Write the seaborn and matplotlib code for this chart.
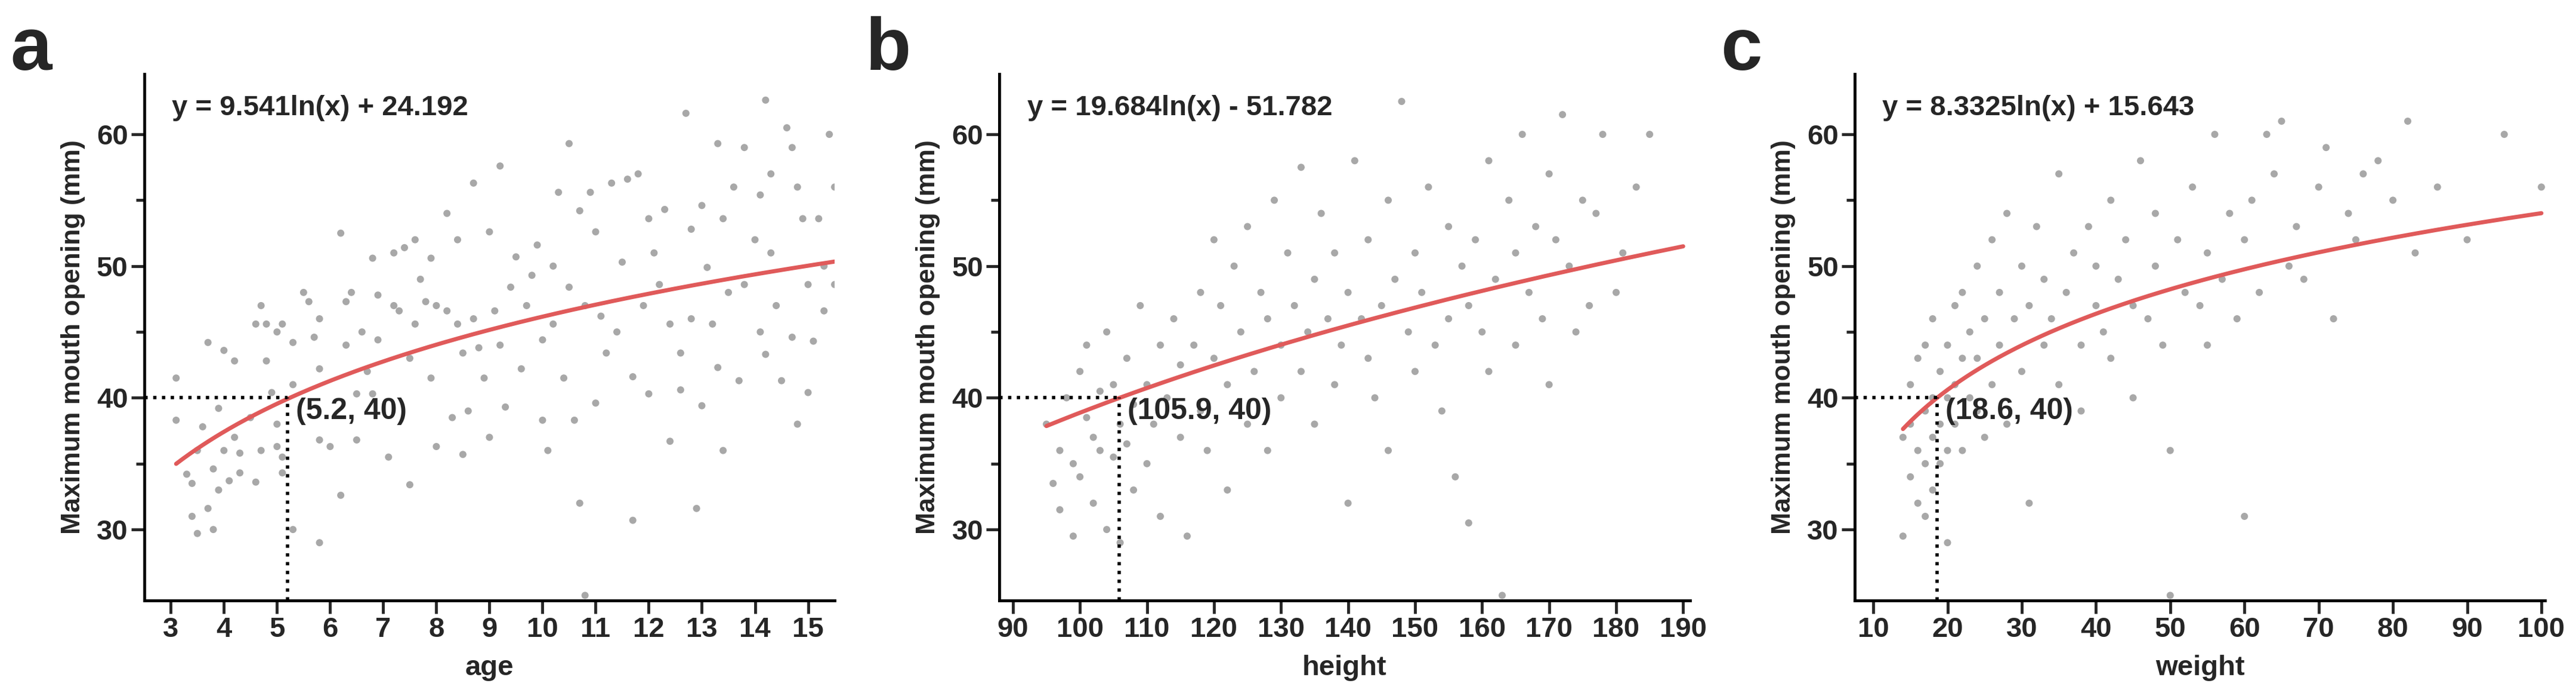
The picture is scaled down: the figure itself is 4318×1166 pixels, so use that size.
import numpy as np
import pandas as pd
import seaborn as sns
import matplotlib.pyplot as plt

# panel a: age vs maximum mouth opening
age = [3.1,3.1,3.3,3.4,3.4,3.5,3.5,3.6,3.7,3.7,3.8,3.8,3.9,3.9,4.0,4.0,4.1,4.2,4.2,4.3,4.3,4.5,4.6,4.6,4.7,4.7,4.8,4.8,4.9,5.0,
       5.0,5.0,5.1,5.1,5.1,5.3,5.3,5.3,5.5,5.6,5.7,5.8,5.8,5.8,5.8,6.0,6.2,6.2,6.3,6.3,6.4,6.5,6.5,6.6,6.7,6.8,6.8,6.9,6.9,7.1,
       7.2,7.2,7.3,7.4,7.5,7.5,7.6,7.6,7.7,7.8,7.9,7.9,8.0,8.0,8.2,8.2,8.3,8.4,8.4,8.5,8.5,8.6,8.7,8.7,8.8,8.9,9.0,9.0,9.1,9.2,
       9.2,9.3,9.4,9.5,9.6,9.7,9.8,9.9,10.0,10.0,10.1,10.2,10.2,10.3,10.4,10.5,10.5,10.6,10.7,10.7,10.8,10.8,10.9,11.0,11.0,11.1,11.2,11.3,11.4,11.5,
       11.6,11.7,11.7,11.8,11.9,12.0,12.0,12.1,12.2,12.3,12.4,12.4,12.6,12.6,12.7,12.8,12.8,12.9,13.0,13.0,13.1,13.2,13.3,13.3,13.4,13.4,13.5,13.6,13.7,13.8,
       13.8,14.0,14.1,14.1,14.2,14.2,14.3,14.3,14.4,14.5,14.6,14.7,14.7,14.8,14.8,14.9,15.0,15.0,15.1,15.2,15.3,15.3,15.4,15.5,15.5]
mmo_a = [41.5,38.3,34.2,33.5,31,29.7,36,37.8,44.2,31.6,34.6,30,39.2,33,43.6,36,33.7,42.8,37,35.8,34.3,38.5,45.6,33.6,47,36,45.6,42.8,40.4,45,
         38,36.3,45.6,34.3,35.5,44.2,41,30,48,47.3,44.6,46,42.2,36.8,29,36.3,52.5,32.6,47.3,44,48,36.8,40.3,45,42,50.6,40.3,47.8,44.4,35.5,
         47,51,46.6,51.4,43,33.4,52,45.6,49,47.3,50.6,41.5,47,36.3,54,46.6,38.5,52,45.6,43.4,35.7,39,56.3,46,43.8,41.5,52.6,37,46.6,57.6,
         44,39.3,48.4,50.7,42.2,47,49.3,51.6,44.4,38.3,36,45.6,50,55.6,41.5,59.3,48.4,38.3,54.2,32,47,25,55.6,52.6,39.6,46.2,43.4,56.3,45,50.3,
         56.6,41.6,30.7,57,47,53.6,40.3,51,48.6,54.3,45.6,36.7,43.4,40.6,61.6,52.8,46,31.6,54.6,39.4,49.9,45.6,59.3,42.3,53.6,36,48,56,41.3,59,
         48.6,52,55.4,45,62.6,43.3,57,51,47,41.3,60.5,59,44.6,56,38,53.6,40.4,48.6,44.3,53.6,46.6,50,60,56,48.6]

# panel b: height
height = [95,96,97,97,98,99,99,100,100,101,101,102,102,103,103,104,104,105,105,106,106,107,107,108,108,109,110,110,111,112,
          112,113,114,115,115,116,117,118,118,119,120,120,121,122,122,123,124,125,125,126,127,128,128,129,130,130,131,132,133,133,
          134,135,135,136,137,138,138,139,140,140,141,142,143,143,144,145,146,146,147,148,149,150,150,151,152,153,154,155,155,156,
          157,158,158,159,160,161,161,162,163,164,165,165,166,167,168,169,170,170,171,172,173,174,175,176,177,178,180,181,183,185]
mmo_b = [38,33.5,36,31.5,40,35,29.5,42,34,38.5,44,32,37,40.5,36,45,30,41,35.5,38,29,43,36.5,39.5,33,47,41,35,38,44,
         31,40,46,37,42.5,29.5,44,48,39,36,52,43,47,41,33,50,45,38,53,42,48,36,46,55,44,40,51,47,57.5,42,
         45,49,38,54,46,41,51,44,48,32,58,46,43,52,40,47,55,36,49,62.5,45,51,42,48,56,44,39,53,46,34,
         50,47,30.5,52,45,58,42,49,25,55,51,44,60,48,53,46,57,41,52,61.5,50,45,55,47,54,60,48,51,56,60]

# panel c: weight
weight = [14,14,15,15,15,16,16,16,17,17,17,17,18,18,18,18,19,19,19,20,20,20,20,21,21,21,22,22,22,23,
          23,24,24,24,25,25,26,26,27,27,28,28,29,30,30,31,31,32,33,33,34,35,35,36,37,38,38,39,40,40,
          41,42,42,43,44,45,45,46,47,48,48,49,50,50,51,52,53,54,55,55,56,57,58,59,60,60,61,62,63,64,
          65,66,67,68,70,71,72,74,75,76,78,80,82,83,86,90,95,100]
mmo_c = [29.5,37,34,38,41,32,36,43,35,39,31,44,37,40,33,46,38,35,42,36,40,44,29,38,47,41,43,36,48,40,
         45,39,50,43,46,37,52,41,44,48,38,54,46,42,50,47,32,53,44,49,46,57,41,48,51,44,39,53,47,50,
         45,55,43,49,52,47,40,58,46,50,54,44,36,25,52,48,56,47,51,44,60,49,54,46,31,52,55,48,60,57,
         61,50,53,49,56,59,46,54,52,57,58,55,61,51,56,52,60,56]

fits = [
    dict(x=age, y=mmo_a, a=9.541, b=24.192, lo=3.1, hi=15.5, x0=5.2, xlab='age', letter='a',
         eq='y = 9.541ln(x) + 24.192', lbl='(5.2, 40)', xlim=(2.5, 15.5), xt=list(range(3, 16))),
    dict(x=height, y=mmo_b, a=19.684, b=-51.782, lo=95, hi=190, x0=105.9, xlab='height', letter='b',
         eq='y = 19.684ln(x) - 51.782', lbl='(105.9, 40)', xlim=(88, 191), xt=list(range(90, 191, 10))),
    dict(x=weight, y=mmo_c, a=8.3325, b=15.643, lo=14, hi=100, x0=18.6, xlab='weight', letter='c',
         eq='y = 8.3325ln(x) + 15.643', lbl='(18.6, 40)', xlim=(7.5, 100.5), xt=list(range(10, 101, 10))),
]

sns.set_style('white')
plt.rcParams['font.family'] = ['Liberation Sans', 'DejaVu Sans']
plt.rcParams['font.weight'] = 'bold'

fig = plt.figure(figsize=(43.18, 11.66), dpi=100)
lefts = [0.056, 0.388, 0.72]
for left, f in zip(lefts, fits):
    ax = fig.add_axes([left, 0.137, 0.268, 0.757])
    df = pd.DataFrame({'x': f['x'], 'y': f['y']})
    sns.scatterplot(data=df, x='x', y='y', ax=ax, color='#a8a8a8', s=75, edgecolor='none', zorder=2)
    xs = np.linspace(f['lo'], f['hi'], 300)
    sns.lineplot(x=xs, y=f['a'] * np.log(xs) + f['b'], ax=ax, color='#e05a5a', linewidth=5, zorder=3)
    ax.set_xlim(*f['xlim'])
    ax.set_ylim(24.6, 64.6)
    ax.plot([f['xlim'][0], f['x0']], [40, 40], ls=':', color='black', lw=4, zorder=4)
    ax.plot([f['x0'], f['x0']], [24.6, 40], ls=':', color='black', lw=4, zorder=4)
    span = f['xlim'][1] - f['xlim'][0]
    ax.text(f['x0'] + span * 0.012, 38.4, f['lbl'], fontsize=36, fontweight='bold')
    ax.text(0.04, 0.96, f['eq'], transform=ax.transAxes, fontsize=34, fontweight='bold', va='top')
    fig.text(left - 0.052, 0.9, f['letter'], fontsize=90, fontweight='bold', va='baseline')
    ax.set_xticks(f['xt'])
    ax.set_yticks([30, 40, 50, 60])
    ax.set_yticks([35, 45, 55], minor=True)
    ax.tick_params(axis='both', which='major', labelsize=34, length=16, width=3.5, direction='out',
                   bottom=True, left=True)
    ax.tick_params(axis='y', which='minor', length=10, width=3.5, left=True)
    for lab in ax.get_xticklabels() + ax.get_yticklabels():
        lab.set_fontweight('bold')
    ax.set_xlabel(f['xlab'], fontsize=34, fontweight='bold', labelpad=14)
    ax.set_ylabel('Maximum mouth opening (mm)', fontsize=32, fontweight='bold', labelpad=14)
    sns.despine(ax=ax)
    for s in ['left', 'bottom']:
        ax.spines[s].set_linewidth(3.5)
        ax.spines[s].set_color('black')

fig.savefig('out.png', dpi=100, facecolor='white')
